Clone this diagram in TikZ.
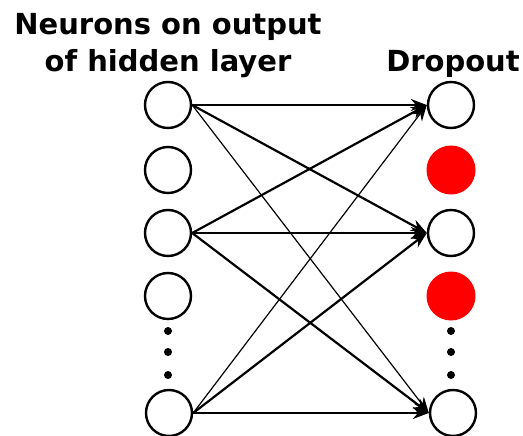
\documentclass[tikz,border=0pt]{standalone}
\usepackage{fontspec}
\setmainfont{DejaVu Sans}
\usetikzlibrary{arrows.meta}
\begin{document}
\begin{tikzpicture}[x=1pt,y=-1pt,
  neuron/.style={circle,draw=black,line width=2.4pt,fill=white,minimum size=46pt,inner sep=0pt},
  dropped/.style={circle,fill=red,minimum size=49pt,inner sep=0pt},
  vdot/.style={circle,fill=black,minimum size=8pt,inner sep=0pt},
  title/.style={font=\bfseries\fontsize{29}{37}\selectfont,align=center,inner sep=0pt},
  link/.style={line width=2.2pt,-{Stealth[length=16pt,width=12pt]}},
  faint/.style={line width=1.2pt,-{Stealth[length=16pt,width=12pt]}}]
  \useasboundingbox (0,0) rectangle (523,436);
  % headings
  \node[title,anchor=base] (hdl) at (168,72) {Neurons on output\\of hidden layer};
  \node[title,anchor=base] (hdr) at (453,72) {Dropout};
  % left column
  \node[neuron] (L1) at (168,105) {};
  \node[neuron] (L2) at (168,170) {};
  \node[neuron] (L3) at (168,233) {};
  \node[neuron] (L4) at (168,296) {};
  \node[vdot] (ld1) at (168,331) {};
  \node[vdot] (ld2) at (168,352) {};
  \node[vdot] (ld3) at (168,375) {};
  \node[neuron] (L6) at (169,413) {};
  % right column
  \node[neuron] (R1) at (451,105) {};
  \node[dropped] (R2) at (451,170) {};
  \node[neuron] (R3) at (451,233) {};
  \node[dropped] (R4) at (451,296) {};
  \node[vdot] (rd1) at (451,331) {};
  \node[vdot] (rd2) at (451,352) {};
  \node[vdot] (rd3) at (451,375) {};
  \node[neuron] (R6) at (453,413) {};
  % connections
  \draw[link] (L1.east) -- (R1.west);
  \draw[link] (L1.east) -- (R3.west);
  \draw[faint] (L1.east) -- (R6.west);
  \draw[link] (L3.east) -- (R1.west);
  \draw[link] (L3.east) -- (R3.west);
  \draw[link] (L3.east) -- (R6.west);
  \draw[faint] (L6.east) -- (R1.west);
  \draw[link] (L6.east) -- (R3.west);
  \draw[link] (L6.east) -- (R6.west);
\end{tikzpicture}
\end{document}
